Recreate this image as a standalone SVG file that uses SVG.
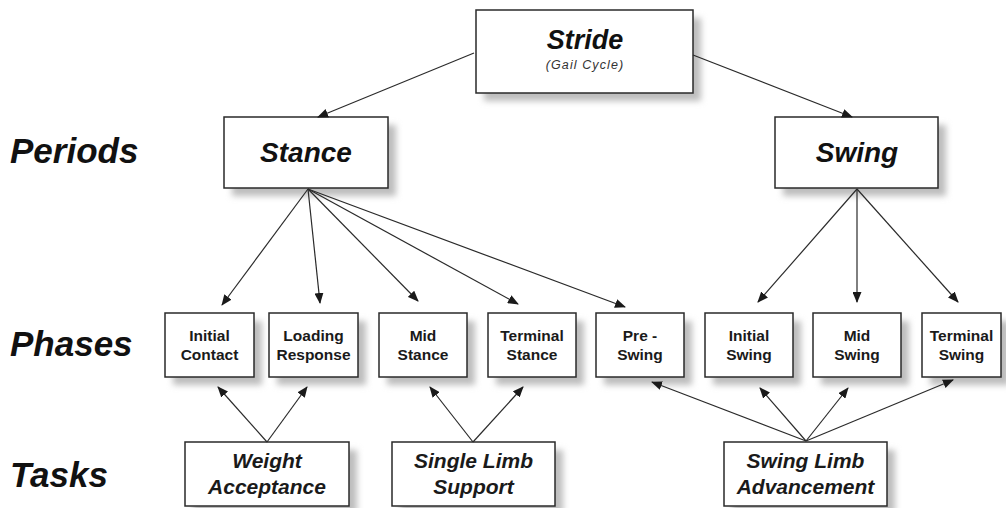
<svg xmlns="http://www.w3.org/2000/svg" width="1006" height="508" viewBox="0 0 1006 508">
<style>
.box{fill:#fff;stroke:#2a2a2a;stroke-width:1.5}
.sh{fill:#bdbdbd;filter:url(#blur)}
.lbl{font-family:"Liberation Sans",Arial,sans-serif;font-weight:bold;font-style:italic;fill:#111}
.row{font-size:35px}
.ph{font-family:"Liberation Sans",Arial,sans-serif;font-weight:bold;font-size:15.5px;fill:#1a1a1a;text-anchor:middle}
.tk{font-family:"Liberation Sans",Arial,sans-serif;font-weight:bold;font-style:italic;font-size:21px;fill:#1a1a1a;text-anchor:middle}
.cn line{stroke:#2a2a2a;stroke-width:1.2;marker-end:url(#ah)}
</style>
<defs>
<filter id="blur" x="-20%" y="-20%" width="140%" height="140%"><feGaussianBlur stdDeviation="3"/></filter>
<marker id="ah" markerUnits="userSpaceOnUse" markerWidth="11" markerHeight="9" refX="10" refY="4.5" orient="auto"><path d="M0,0 L11,4.5 L0,9 z" fill="#1a1a1a"/></marker>
</defs>
<rect width="1006" height="508" fill="#fff"/>

<g id="row-labels">
<text class="lbl row" x="10" y="163">Periods</text>
<text class="lbl row" x="10" y="356">Phases</text>
<text class="lbl row" x="10" y="487">Tasks</text>
</g>

<g id="stride">
<rect class="sh" x="484" y="18" width="217" height="83"/>
<rect class="box" x="476" y="10" width="217" height="83"/>
<text class="lbl" x="585" y="49" font-size="27" text-anchor="middle">Stride</text>
<text x="585" y="69" font-family="Liberation Sans,Arial,sans-serif" font-style="italic" font-size="12.5" letter-spacing="1.1" fill="#333" text-anchor="middle">(Gail Cycle)</text>
</g>
<g id="stance">
<rect class="sh" x="232" y="125" width="164" height="71"/>
<rect class="box" x="224" y="117" width="164" height="71"/>
<text class="lbl" x="306" y="162" font-size="28" text-anchor="middle">Stance</text>
</g>
<g id="swing">
<rect class="sh" x="783" y="125" width="163" height="71"/>
<rect class="box" x="775" y="117" width="163" height="71"/>
<text class="lbl" x="857" y="162" font-size="28" text-anchor="middle">Swing</text>
</g>

<g id="initial-contact">
<rect class="sh" x="173" y="321" width="89" height="64"/>
<rect class="box" x="165" y="313" width="89" height="64"/>
<text class="ph" x="209.5" y="341">Initial</text><text class="ph" x="209.5" y="360">Contact</text>
</g>
<g id="loading-response">
<rect class="sh" x="277" y="321" width="89" height="64"/>
<rect class="box" x="269" y="313" width="89" height="64"/>
<text class="ph" x="313.5" y="341">Loading</text><text class="ph" x="313.5" y="360">Response</text>
</g>
<g id="mid-stance">
<rect class="sh" x="387" y="321" width="88" height="64"/>
<rect class="box" x="379" y="313" width="88" height="64"/>
<text class="ph" x="423" y="341">Mid</text><text class="ph" x="423" y="360">Stance</text>
</g>
<g id="terminal-stance">
<rect class="sh" x="496" y="321" width="88" height="64"/>
<rect class="box" x="488" y="313" width="88" height="64"/>
<text class="ph" x="532" y="341">Terminal</text><text class="ph" x="532" y="360">Stance</text>
</g>
<g id="pre-swing">
<rect class="sh" x="604" y="321" width="88" height="64"/>
<rect class="box" x="596" y="313" width="88" height="64"/>
<text class="ph" x="640" y="341">Pre -</text><text class="ph" x="640" y="360">Swing</text>
</g>
<g id="initial-swing">
<rect class="sh" x="713" y="321" width="88" height="64"/>
<rect class="box" x="705" y="313" width="88" height="64"/>
<text class="ph" x="749" y="341">Initial</text><text class="ph" x="749" y="360">Swing</text>
</g>
<g id="mid-swing">
<rect class="sh" x="821" y="321" width="88" height="64"/>
<rect class="box" x="813" y="313" width="88" height="64"/>
<text class="ph" x="857" y="341">Mid</text><text class="ph" x="857" y="360">Swing</text>
</g>
<g id="terminal-swing">
<rect class="sh" x="930" y="321" width="80" height="64"/>
<rect class="box" x="922" y="313" width="79" height="64"/>
<text class="ph" x="961.5" y="341">Terminal</text><text class="ph" x="961.5" y="360">Swing</text>
</g>

<g id="weight-acceptance">
<rect class="sh" x="193" y="450" width="164" height="64"/>
<rect class="box" x="185" y="442" width="164" height="64"/>
<text class="tk" x="267" y="468">Weight</text><text class="tk" x="267" y="494">Acceptance</text>
</g>
<g id="single-limb-support">
<rect class="sh" x="400" y="450" width="163" height="64"/>
<rect class="box" x="392" y="442" width="163" height="64"/>
<text class="tk" x="473.5" y="468">Single Limb</text><text class="tk" x="473.5" y="494">Support</text>
</g>
<g id="swing-limb-advancement">
<rect class="sh" x="732" y="450" width="163" height="64"/>
<rect class="box" x="724" y="442" width="163" height="64"/>
<text class="tk" x="805.5" y="468">Swing Limb</text><text class="tk" x="805.5" y="494">Advancement</text>
</g>

<g id="connectors" class="cn">
<line x1="474" y1="53" x2="318" y2="117"/>
<line x1="693" y1="55" x2="852" y2="117"/>
<line x1="308" y1="189" x2="222" y2="305"/>
<line x1="308" y1="189" x2="320" y2="303"/>
<line x1="308" y1="189" x2="418" y2="301"/>
<line x1="308" y1="189" x2="518" y2="304"/>
<line x1="308" y1="189" x2="625" y2="307"/>
<line x1="857" y1="189" x2="758" y2="302"/>
<line x1="857" y1="189" x2="857" y2="302"/>
<line x1="857" y1="189" x2="958" y2="302"/>
<line x1="267" y1="442" x2="218" y2="387"/>
<line x1="267" y1="442" x2="307" y2="387"/>
<line x1="473" y1="442" x2="430" y2="387"/>
<line x1="473" y1="442" x2="523" y2="387"/>
<line x1="806" y1="441" x2="652" y2="382"/>
<line x1="806" y1="441" x2="760" y2="388"/>
<line x1="806" y1="441" x2="848" y2="388"/>
<line x1="806" y1="441" x2="953" y2="380"/>
</g>
</svg>
